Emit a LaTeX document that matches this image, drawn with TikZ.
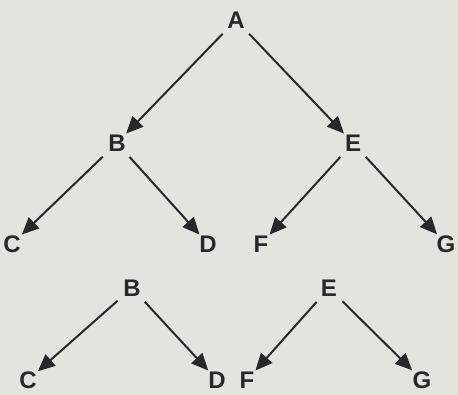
\documentclass[tikz,border=0pt]{standalone}
\usepackage{fontspec}
\setmainfont{Liberation Sans}
\usetikzlibrary{arrows.meta}
\definecolor{bg}{HTML}{E4E4DF}
\definecolor{ink}{HTML}{282828}
\begin{document}
\begin{tikzpicture}[x=1pt,y=-1pt,
  lbl/.style={font=\fontsize{24}{24}\selectfont\bfseries, text=ink, inner sep=1pt},
  arr/.style={draw=ink, line width=2pt, -{Triangle[length=17pt,width=15pt]}, shorten <=6pt, shorten >=0pt}]
\fill[bg] (0,0) rectangle (458,395);
\useasboundingbox (0,0) rectangle (458,395);
% upper tree
\node[lbl] (A) at (236,20) {A};
\node[lbl] (B1) at (117,143) {B};
\node[lbl] (E1) at (353,143) {E};
\node[lbl] (C1) at (12,244) {C};
\node[lbl] (D1) at (208,244) {D};
\node[lbl] (F1) at (261,244) {F};
\node[lbl] (G1) at (446,244) {G};
\draw[arr] (A) -- (B1);
\draw[arr] (A) -- (E1);
\draw[arr] (B1) -- (C1);
\draw[arr] (B1) -- (D1);
\draw[arr] (E1) -- (F1);
\draw[arr] (E1) -- (G1);
% lower trees
\node[lbl] (B2) at (132,288) {B};
\node[lbl] (E2) at (329,288) {E};
\node[lbl] (C2) at (28,380) {C};
\node[lbl] (D2) at (217,380) {D};
\node[lbl] (F2) at (247,380) {F};
\node[lbl] (G2) at (422,380) {G};
\draw[arr] (B2) -- (C2);
\draw[arr] (B2) -- (D2);
\draw[arr] (E2) -- (F2);
\draw[arr] (E2) -- (G2);
\end{tikzpicture}
\end{document}
